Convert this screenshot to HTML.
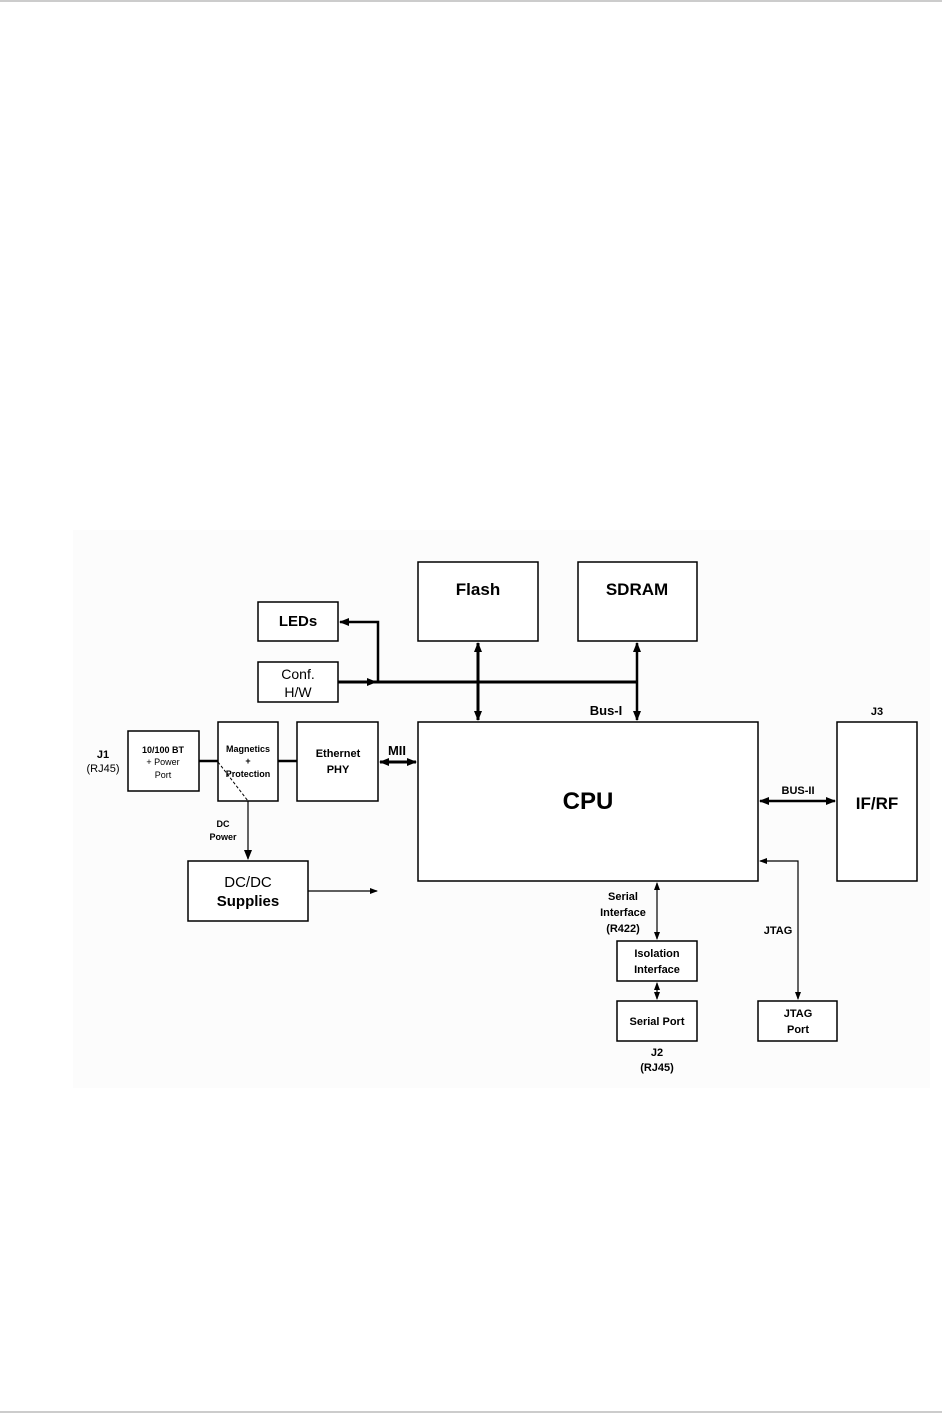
<!DOCTYPE html>
<html><head><style>
body{margin:0;background:#fff;}
svg{display:block;font-family:"Liberation Sans",Arial,sans-serif;font-weight:bold;}
</style></head><body>
<svg width="942" height="1415" viewBox="0 0 942 1415" xmlns="http://www.w3.org/2000/svg">
<defs>
<marker id="a" markerWidth="10" markerHeight="10" refX="9" refY="5" orient="auto-start-reverse" markerUnits="userSpaceOnUse"><path d="M0,1 L10,5 L0,9 z" fill="#000"/></marker>
<marker id="s" markerWidth="8" markerHeight="8" refX="7" refY="4" orient="auto-start-reverse" markerUnits="userSpaceOnUse"><path d="M0,1 L8,4 L0,7 z" fill="#000"/></marker>
</defs>
<line x1="0" y1="1" x2="942" y2="1" stroke="#999" stroke-width="1"/>
<line x1="0" y1="1412" x2="942" y2="1412" stroke="#999" stroke-width="1"/>
<rect x="73" y="530" width="857" height="558" fill="#fcfcfc"/>
<g fill="#fff" stroke="#000" stroke-width="1.5">
<rect x="258" y="602" width="80" height="39"/>
<rect x="258" y="662" width="80" height="40"/>
<rect x="418" y="562" width="120" height="79"/>
<rect x="578" y="562" width="119" height="79"/>
<rect x="418" y="722" width="340" height="159"/>
<rect x="128" y="731" width="71" height="60"/>
<rect x="218" y="722" width="60" height="79"/>
<rect x="297" y="722" width="81" height="79"/>
<rect x="188" y="861" width="120" height="60"/>
<rect x="837" y="722" width="80" height="159"/>
<rect x="617" y="941" width="80" height="40"/>
<rect x="617" y="1001" width="80" height="40"/>
<rect x="758" y="1001" width="79" height="40"/>
</g>
<g stroke="#000" fill="none">
<line x1="338" y1="682" x2="637" y2="682" stroke-width="3"/>
<line x1="338" y1="682" x2="376" y2="682" stroke-width="2.5" marker-end="url(#a)"/>
<polyline points="378,682 378,622 340,622" stroke-width="2.5" marker-end="url(#a)"/>
<line x1="478" y1="643" x2="478" y2="720" stroke-width="3" marker-start="url(#a)" marker-end="url(#a)"/>
<line x1="637" y1="643" x2="637" y2="720" stroke-width="2.5" marker-start="url(#a)" marker-end="url(#a)"/>
<line x1="380" y1="762" x2="416" y2="762" stroke-width="3" marker-start="url(#a)" marker-end="url(#a)"/>
<line x1="760" y1="801" x2="835" y2="801" stroke-width="2.5" marker-start="url(#a)" marker-end="url(#a)"/>
<line x1="199" y1="761" x2="218" y2="761" stroke-width="2.5"/>
<line x1="278" y1="761" x2="297" y2="761" stroke-width="2.5"/>
<line x1="218" y1="762" x2="248" y2="801" stroke-width="1" stroke-dasharray="3,2"/>
<line x1="248" y1="801" x2="248" y2="859" stroke-width="1.2" marker-end="url(#a)"/>
<line x1="308" y1="891" x2="377" y2="891" stroke-width="1.2" marker-end="url(#s)"/>
<line x1="657" y1="883" x2="657" y2="939" stroke-width="1.2" marker-start="url(#s)" marker-end="url(#s)"/>
<line x1="657" y1="983" x2="657" y2="999" stroke-width="1.2" marker-start="url(#s)" marker-end="url(#s)"/>
<polyline points="798,999 798,861 760,861" stroke-width="1.2" marker-start="url(#s)" marker-end="url(#s)"/>
</g>
<g text-anchor="middle" fill="#000">
<text x="298" y="626" font-size="15">LEDs</text>
<text x="298" y="679" font-size="14" font-weight="normal">Conf.</text>
<text x="298" y="697" font-size="14" font-weight="normal">H/W</text>
<text x="478" y="595" font-size="17">Flash</text>
<text x="637" y="595" font-size="17">SDRAM</text>
<text x="588" y="809" font-size="24">CPU</text>
<text x="606" y="715" font-size="13">Bus-I</text>
<text x="877" y="715" font-size="11">J3</text>
<text x="877" y="809" font-size="17">IF/RF</text>
<text x="798" y="794" font-size="11">BUS-II</text>
<text x="397" y="755" font-size="13">MII</text>
<text x="103" y="758" font-size="11">J1</text>
<text x="103" y="772" font-size="11" font-weight="normal">(RJ45)</text>
<text x="163" y="753" font-size="9">10/100 BT</text>
<text x="163" y="765" font-size="9" font-weight="normal">+ Power</text>
<text x="163" y="778" font-size="9" font-weight="normal">Port</text>
<text x="248" y="752" font-size="9">Magnetics</text>
<text x="248" y="764" font-size="9">+</text>
<text x="248" y="777" font-size="9">Protection</text>
<text x="338" y="757" font-size="11">Ethernet</text>
<text x="338" y="773" font-size="11">PHY</text>
<text x="223" y="827" font-size="9">DC</text>
<text x="223" y="840" font-size="9">Power</text>
<text x="248" y="887" font-size="15" font-weight="normal">DC/DC</text>
<text x="248" y="906" font-size="15">Supplies</text>
<text x="623" y="900" font-size="11">Serial</text>
<text x="623" y="916" font-size="11">Interface</text>
<text x="623" y="932" font-size="11">(R422)</text>
<text x="657" y="957" font-size="11">Isolation</text>
<text x="657" y="973" font-size="11">Interface</text>
<text x="657" y="1025" font-size="11">Serial Port</text>
<text x="657" y="1056" font-size="11">J2</text>
<text x="657" y="1071" font-size="11">(RJ45)</text>
<text x="778" y="934" font-size="11">JTAG</text>
<text x="798" y="1017" font-size="11">JTAG</text>
<text x="798" y="1033" font-size="11">Port</text>
</g>
</svg>
</body></html>
